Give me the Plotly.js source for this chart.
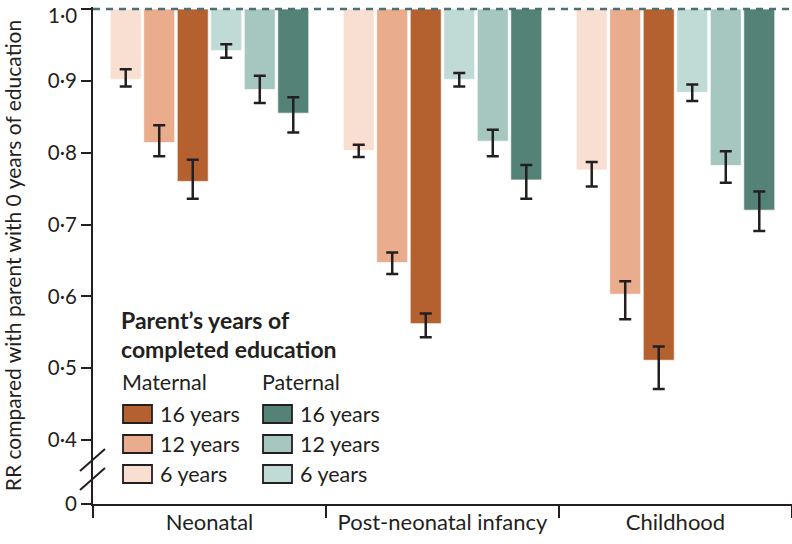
<!DOCTYPE html>
<html>
<head>
<meta charset="utf-8">
<script src="https://cdn.plot.ly/plotly-3.0.1.min.js"></script>
<style>
html,body{margin:0;padding:0;background:#fff;}
#chart{width:792px;height:544px;}
</style>
</head>
<body>
<div id="chart"></div>
<script>
// ---- data ----
const categories = ["Neonatal", "Post-neonatal infancy", "Childhood"];

const mat6   = [0.902, 0.803, 0.776];
const mat6Lo = [0.892, 0.794, 0.753];
const mat6Hi = [0.916, 0.811, 0.787];

const mat12   = [0.814, 0.647, 0.603];
const mat12Lo = [0.795, 0.631, 0.568];
const mat12Hi = [0.838, 0.661, 0.621];

const mat16   = [0.760, 0.562, 0.511];
const mat16Lo = [0.736, 0.543, 0.471];
const mat16Hi = [0.790, 0.576, 0.530];

const pat6   = [0.942, 0.902, 0.884];
const pat6Lo = [0.932, 0.892, 0.872];
const pat6Hi = [0.951, 0.911, 0.895];

const pat12   = [0.888, 0.816, 0.782];
const pat12Lo = [0.869, 0.795, 0.758];
const pat12Hi = [0.907, 0.832, 0.802];

const pat16   = [0.855, 0.762, 0.720];
const pat16Lo = [0.828, 0.736, 0.691];
const pat16Hi = [0.877, 0.783, 0.746];

const seriesNames = ["6 years", "12 years", "16 years", "6 years", "12 years", "16 years"];
const seriesGroups = ["Maternal", "Maternal", "Maternal", "Paternal", "Paternal", "Paternal"];
const tickValues = [0, 0.4, 0.5, 0.6, 0.7, 0.8, 0.9, 1.0];
const tickLabels = ["0", "0·4", "0·5", "0·6", "0·7", "0·8", "0·9", "1·0"];
const reference = 1.0;

// ---- style ----
const colors = ["#f8dfd2", "#e9ac8c", "#b5602f", "#c0dad5", "#a6c6c0", "#548276"];
const FONT = "Lato, 'Open Sans', sans-serif";
const INK = "#231f20";
const axisBottom = 0.3109;   // display position of the broken-axis "0"
const axisTop = 1.00278;

const W = 792, H = 544;
const M = {l: 93, r: 0, t: 7, b: 40};
const PW = W - M.l - M.r, PH = H - M.t - M.b;
const px = x => (x - M.l) / PW;
const py = y => (H - M.b - y) / PH;

const vals = [mat6, mat12, mat16, pat6, pat12, pat16];
const los = [mat6Lo, mat12Lo, mat16Lo, pat6Lo, pat12Lo, pat16Lo];
const his = [mat6Hi, mat12Hi, mat16Hi, pat6Hi, pat12Hi, pat16Hi];

const traces = vals.map((v, i) => ({
  type: "bar",
  name: seriesGroups[i] + " " + seriesNames[i],
  x: categories,
  y: v.map(d => d - reference),
  base: reference,
  marker: {color: colors[i], line: {color: "rgba(255,255,255,0.7)", width: 1}},
  error_y: {
    type: "data", symmetric: false,
    array: his[i].map((h, j) => h - v[j]),
    arrayminus: v.map((d, j) => d - los[i][j]),
    color: INK, thickness: 2.5, width: 6
  },
  showlegend: false,
  hoverinfo: "skip"
}));

const shapes = [];
const annotations = [];

// reference dashed line at RR = 1
shapes.push({type: "line", xref: "paper", yref: "y", x0: 0, x1: 1, y0: reference, y1: reference,
  line: {color: "#4d7074", width: 2.5, dash: "7px,6px"}, layer: "above"});

// axis break marks
[[80, 471, 105, 449], [80, 490, 105, 468]].forEach(s => {
  shapes.push({type: "line", xref: "paper", yref: "paper",
    x0: px(s[0]), y0: py(s[1]), x1: px(s[2]), y1: py(s[3]),
    line: {color: INK, width: 2}});
});

// top tick label (kept inside the page, as in the reference)
const topIdx = tickValues.indexOf(reference);
annotations.push({xref: "paper", yref: "paper", x: px(79), y: py(0.5), xanchor: "right", yanchor: "top",
  text: tickLabels[topIdx], showarrow: false, font: {family: FONT, size: 20.5, color: INK}});

// legend
annotations.push({xref: "paper", yref: "paper", x: px(119), y: py(320), xanchor: "left", yanchor: "middle",
  text: "<b>Parent’s years of</b>", showarrow: false, font: {family: FONT, size: 23, color: INK}});
annotations.push({xref: "paper", yref: "paper", x: px(119), y: py(349), xanchor: "left", yanchor: "middle",
  text: "<b>completed education</b>", showarrow: false, font: {family: FONT, size: 23, color: INK}});

const colX = [122, 262];
["Maternal", "Paternal"].forEach((g, c) => {
  annotations.push({xref: "paper", yref: "paper", x: px(colX[c] - 2), y: py(382), xanchor: "left", yanchor: "middle",
    text: g, showarrow: false, font: {family: FONT, size: 21.5, color: INK}});
  [2, 1, 0].forEach((k, r) => {
    const idx = c * 3 + k;
    const cy = 414 + r * 30;
    shapes.push({type: "rect", xref: "paper", yref: "paper",
      x0: px(colX[c] + 1), x1: px(colX[c] + 30), y0: py(cy - 9), y1: py(cy + 9),
      fillcolor: colors[idx], line: {color: INK, width: 1.8}});
    annotations.push({xref: "paper", yref: "paper", x: px(colX[c] + 36), y: py(cy), xanchor: "left", yanchor: "middle",
      text: seriesNames[idx], showarrow: false, font: {family: FONT, size: 21.5, color: INK}});
  });
});

const layout = {
  width: W, height: H,
  margin: M,
  paper_bgcolor: "#fff", plot_bgcolor: "#fff",
  barmode: "group", bargap: 0.137, bargroupgap: 0.075,
  showlegend: false,
  font: {family: FONT, size: 21, color: INK},
  xaxis: {
    type: "category", range: [-0.5, 2.5],
    showline: true, linecolor: INK, linewidth: 2,
    ticks: "outside", tickson: "boundaries", ticklen: 12, tickwidth: 2, tickcolor: INK,
    tickfont: {family: FONT, size: 22, color: INK},
    ticklabelstandoff: -2,
    showgrid: false, zeroline: false, fixedrange: true
  },
  yaxis: {
    range: [axisBottom, axisTop],
    tickvals: tickValues.map(t => t === 0 ? axisBottom : t),
    ticktext: tickLabels.map((t, i) => i === topIdx ? "" : t),
    showline: true, linecolor: INK, linewidth: 2,
    ticks: "outside", ticklen: 10, tickwidth: 2, tickcolor: INK,
    tickfont: {family: FONT, size: 20.5, color: INK},
    showgrid: false, zeroline: false, fixedrange: true,
    title: {text: "RR compared with parent with 0 years of education", standoff: 20,
      font: {family: FONT, size: 21, color: INK}}
  },
  shapes: shapes,
  annotations: annotations
};

Plotly.newPlot("chart", traces, layout, {displayModeBar: false, staticPlot: true});
</script>
</body>
</html>
